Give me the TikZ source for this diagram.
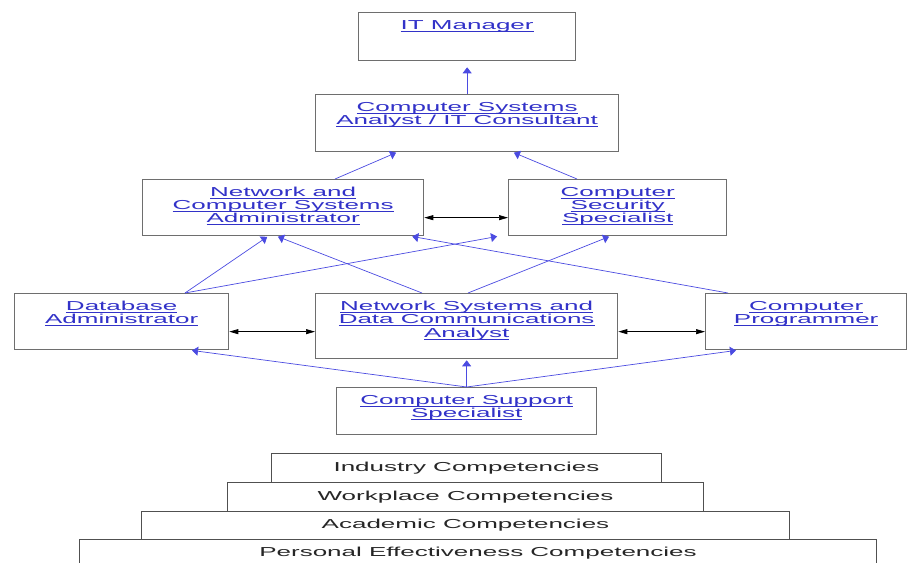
\documentclass[tikz,border=0pt]{standalone}
\usepackage{fontspec}
\setmainfont{Liberation Sans}
\usepackage{graphicx}
\usetikzlibrary{arrows.meta}

\definecolor{linkblue}{RGB}{50,50,200}
\definecolor{edgeblue}{RGB}{75,75,225}
\definecolor{framegray}{RGB}{110,110,110}
\definecolor{tiergray}{RGB}{80,80,80}

% underlined link-style text
\newsavebox{\linkbox}
\newcommand{\linkline}[1]{\sbox{\linkbox}{#1}%
  \rlap{\rule[-2.1pt]{\wd\linkbox}{0.7pt}}\usebox{\linkbox}}

% job box contents: width, height, lines set near the top
\newcommand{\jobtext}[3]{%
  \parbox[t][#2][t]{#1}{\centering\vspace*{7.5pt}%
    \scalebox{2}[1]{\begin{tabular}[t]{@{}c@{}}#3\end{tabular}}\par}}
\newcommand{\tiertext}[1]{\scalebox{2}[1]{#1}}

\begin{document}
\begin{tikzpicture}[x=1pt,y=-1pt,
  jobbox/.style={draw=framegray, line width=1.3pt, inner sep=0pt,
    anchor=north west, text=linkblue, font=\fontsize{13}{13}\selectfont},
  tierbox/.style={draw=tiergray, line width=1pt, inner sep=0pt,
    anchor=north west, text=black!85, font=\fontsize{13}{13}\selectfont},
  promo/.style={draw=edgeblue, line width=0.7pt,
    -{Triangle[length=6pt,width=9pt]}, shorten >=1pt},
  lateral/.style={draw=black, line width=0.7pt,
    {Triangle[length=9pt,width=5pt]}-{Triangle[length=9pt,width=5pt]}}]

\useasboundingbox (0,0) rectangle (907,562);

% career ladder
\node[jobbox] (itm) at (358,12)
  {\jobtext{217pt}{48pt}{\linkline{IT Manager}}};
\node[jobbox] (csa) at (315,94)
  {\jobtext{303pt}{57pt}{\linkline{Computer Systems}\\\linkline{Analyst / IT Consultant}}};
\node[jobbox] (ncsa) at (142,179)
  {\jobtext{281pt}{56pt}{\linkline{Network and}\\\linkline{Computer Systems}\\\linkline{Administrator}}};
\node[jobbox] (css) at (508,179)
  {\jobtext{218pt}{56pt}{\linkline{Computer}\\\linkline{Security}\\\linkline{Specialist}}};
\node[jobbox] (db) at (14,293)
  {\jobtext{214pt}{56pt}{\linkline{Database}\\\linkline{Administrator}}};
\node[jobbox] (nsdca) at (315,293)
  {\jobtext{302pt}{65pt}{\linkline{Network Systems and}\\\linkline{Data Communications}\\\linkline{Analyst}}};
\node[jobbox] (cp) at (705,293)
  {\jobtext{201pt}{56pt}{\linkline{Computer}\\\linkline{Programmer}}};
\node[jobbox] (csup) at (336,387)
  {\jobtext{260pt}{47pt}{\linkline{Computer Support}\\\linkline{Specialist}}};

% competency pyramid
\node[tierbox, minimum width=390pt, minimum height=29pt] (ind) at (271,453)
  {\tiertext{Industry Competencies}};
\node[tierbox, minimum width=476pt, minimum height=29pt] (work) at (227,482)
  {\tiertext{Workplace Competencies}};
\node[tierbox, minimum width=648pt, minimum height=28pt] (acad) at (141,511)
  {\tiertext{Academic Competencies}};
\node[tierbox, minimum width=797pt, minimum height=27pt] (pers) at (79,539)
  {\tiertext{Personal Effectiveness Competencies}};

% promotion paths
\draw[promo, shorten >=6pt] (csa.north) -- (itm.south);
\draw[promo] ([xshift=193pt]ncsa.north west) -- ([xshift=82pt]csa.south west);
\draw[promo] ([xshift=69pt]css.north west) -- ([xshift=198pt]csa.south west);

\draw[promo] ([xshift=171pt]db.north west) -- ([xshift=126pt]ncsa.south west);
\draw[promo] ([xshift=171pt]db.north west) -- ([xshift=-10pt]css.south west);
\draw[promo] ([xshift=107pt]nsdca.north west) -- ([xshift=135pt]ncsa.south west);
\draw[promo] ([xshift=153pt]nsdca.north west) -- ([xshift=102pt]css.south west);
\draw[promo] ([xshift=23pt]cp.north west) -- ([xshift=-13pt]ncsa.south east);

\draw[promo] (csup.north) -- ([xshift=177pt]db.south west);
\draw[promo] (csup.north) -- (nsdca.south);
\draw[promo] (csup.north) -- ([xshift=32pt]cp.south west);

% lateral moves
\coordinate (ncsae) at ([yshift=-10pt]ncsa.east);
\draw[lateral] (ncsae) -- (ncsae -| css.west);
\coordinate (dbe) at ([yshift=-10pt]db.east);
\draw[lateral] (dbe) -- (dbe -| nsdca.west);
\coordinate (cpw) at ([yshift=-10pt]cp.west);
\draw[lateral] (cpw -| nsdca.east) -- (cpw);

\end{tikzpicture}
\end{document}
